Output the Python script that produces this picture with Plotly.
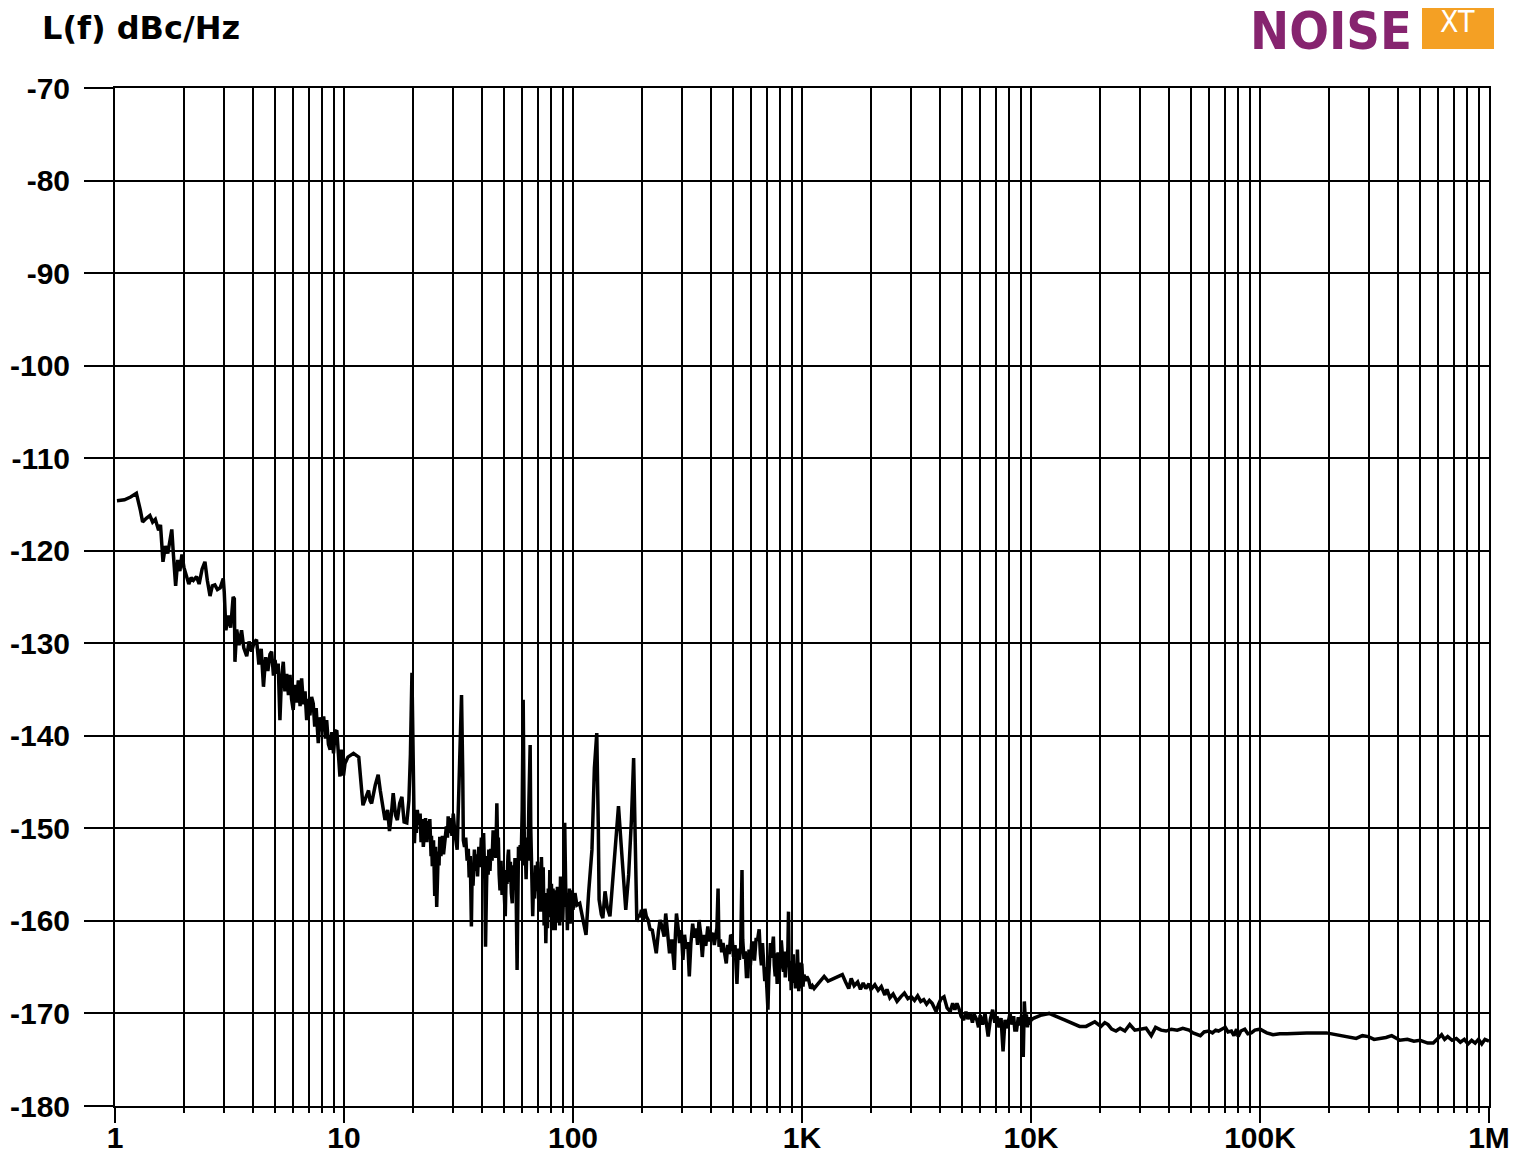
import plotly.graph_objects as go

# ---- data: frequency offset (Hz) and phase noise L(f) (dBc/Hz) ----
freq_hz = [
    1.02, 1.1, 1.17, 1.24, 1.29, 1.32, 1.37, 1.42, 1.46, 1.5, 1.55, 1.58, 1.62, 1.66, 1.7, 1.74,
    1.77, 1.8, 1.84, 1.88, 1.92, 1.96, 2.0, 2.05, 2.1, 2.15, 2.2, 2.27, 2.33, 2.4, 2.47, 2.53,
    2.6, 2.66, 2.73, 2.8, 2.88, 2.97, 3.0, 3.05, 3.12, 3.2, 3.28, 3.32, 3.34, 3.4, 3.48, 3.57,
    3.65, 3.76, 3.85, 3.95, 4.05, 4.15, 4.25, 4.35, 4.45, 4.55, 4.65, 4.75, 4.83, 4.92, 5.0, 5.08,
    5.16, 5.25, 5.33, 5.43, 5.52, 5.62, 5.72, 5.81, 5.9, 6.0, 6.1, 6.2, 6.32, 6.43, 6.53, 6.65,
    6.76, 6.87, 6.98, 7.1, 7.22, 7.34, 7.45, 7.56, 7.72, 7.85, 8.0, 8.15, 8.3, 8.4, 8.55, 8.7,
    8.85, 9.0, 9.15, 9.3, 9.45, 9.6, 9.72, 9.85, 9.95, 10.1, 10.4, 11.0, 11.6, 12.1, 12.5, 12.8,
    13.0, 13.2, 13.7, 14.1, 14.4, 14.6, 15.1, 15.5, 15.8, 16.1, 16.4, 16.8, 17.1, 17.5, 17.9, 18.3,
    18.8, 19.2, 19.5, 19.8, 20.1,
    20.3, 20.5, 20.7, 20.9, 21.2, 21.5, 21.7, 22.0, 22.2, 22.5, 22.7, 23.0, 23.2, 23.5, 23.7, 24.0,
    24.1, 24.3, 24.6, 24.9, 25.1, 25.4, 25.6, 25.8, 26.0, 26.2, 26.5, 26.9, 27.2, 27.6, 28.0, 28.3,
    28.5, 28.9, 29.2, 29.6, 30.0, 30.5, 31.2, 31.8, 32.6, 33.0, 33.2, 33.6, 34.0, 34.5, 34.9, 35.2,
    35.6, 36.0, 36.3, 36.6, 37.1, 37.5, 37.9, 38.3, 38.8, 39.3, 39.8, 40.3, 40.7, 41.2, 41.5, 41.9,
    42.2, 42.6, 42.9, 43.4, 43.8, 44.3, 44.8, 45.2, 45.6, 46.0, 46.5, 46.9, 47.2, 47.6, 48.0, 48.5,
    49.0, 49.5, 50.0, 50.6, 51.1, 51.5, 52.0, 52.3, 52.8, 53.3, 53.8, 54.3, 54.8, 55.3, 55.8, 56.4,
    57.0, 57.4, 57.8, 58.3, 58.8, 59.4, 60.0, 60.6, 61.0, 61.4, 61.9, 62.4, 63.0, 63.6, 64.2, 64.6,
    65.0, 65.4, 65.8, 66.2, 66.7, 67.3, 67.9, 68.6, 69.3, 70.0, 70.8, 71.5, 72.2, 72.8, 73.5, 74.1,
    74.8, 75.5, 76.1, 76.8, 77.4, 78.0, 78.6, 79.2, 79.9, 80.5, 81.2, 81.8, 82.5, 83.1, 83.6, 84.2,
    84.8, 85.5, 86.2, 86.9, 87.5, 88.2, 88.8, 89.5, 90.2, 90.8, 91.5, 92.0, 92.6, 93.2, 93.8, 94.5,
    95.2, 95.8, 96.5, 97.2, 97.9, 98.6, 99.3,
    100, 102, 104,
    107, 111, 114, 117, 121, 124, 127, 129, 130, 133, 135, 138, 141, 145, 150, 154,
    158, 162, 166, 170, 175, 180, 184, 187, 190, 193, 196, 199, 203, 206, 209, 213,
    217, 222, 226, 231, 236, 240, 245, 250, 254, 259, 264, 270, 277, 280, 283, 288,
    292, 297, 302, 307, 312, 317, 322, 327, 333, 339, 345, 350, 355, 361, 367, 373,
    380, 388, 394, 400, 408, 414, 420, 425, 430, 434, 440, 446, 452, 460, 467, 474,
    481, 488, 495, 502, 510, 520, 527, 533, 540, 547, 551, 558, 565, 572, 580, 587,
    595, 603, 610, 620, 630, 640, 650, 658, 665, 672, 680, 688, 695, 702, 710, 716,
    722, 728, 735, 741, 750, 757, 764, 771, 779, 786, 795, 803, 812, 820, 830, 838,
    845, 852, 860, 868, 873, 878, 885, 891, 897, 903, 910, 916, 922, 930, 936, 942,
    948, 955, 962, 968, 974, 980, 986, 992, 998, 1005, 1010, 1020, 1035, 1050, 1070, 1090,
    1110, 1130, 1180, 1250, 1300, 1350, 1420, 1500, 1550, 1600, 1640, 1690, 1750, 1800, 1850, 1900,
    1960, 2000, 2080, 2150, 2220, 2300, 2350, 2420, 2500, 2600, 2700, 2800, 2900, 3000, 3100, 3200,
    3300, 3400, 3500, 3600, 3700, 3850, 3950, 4050, 4170, 4300, 4440, 4550, 4650, 4750, 4850, 4950,
    5080, 5200, 5300, 5430, 5550, 5650, 5800, 5900, 6000, 6150, 6300, 6400, 6500, 6650, 6800, 6950,
    7100, 7250, 7400, 7550, 7700, 7850, 8000, 8100, 8250, 8400, 8500, 8650, 8800, 8950, 9100, 9250,
    9350, 9450, 9550, 9650, 9750, 9850, 10000, 10300, 11000, 12000, 14000, 16300, 17400, 18300, 19000, 20200,
    21000, 21700, 22500, 23500, 24500, 25700, 27000, 28400, 30000, 31800, 33500, 35000, 37000, 38900, 41000, 43500,
    46000, 47400, 49000, 51000, 53000, 54900, 57000, 59700, 62000, 64000, 65900, 68000, 70500, 72500, 75000, 77000,
    79000, 80300, 82500, 85800, 88500, 91600, 95000, 100000, 107000, 114000, 122000, 131000, 160000, 195000, 230000, 263000,
    280000, 297000, 315000, 334000, 355000, 376000, 408000, 440000, 470000, 500000, 540000, 571000, 600000, 621000, 640000, 660000,
    690000, 720000, 750000, 780000, 810000, 840000, 870000, 900000, 930000, 960000, 1000000,
]

phase_noise_dbc = [
    -114.6, -114.5, -114.2, -113.8, -115.6, -116.9, -116.5, -116.2, -116.9, -116.6, -117.8, -117.2, -121.2, -119.5, -120.3, -118.6,
    -117.7, -120.5, -123.8, -121.0, -122.2, -120.4, -121.8, -122.7, -123.6, -122.9, -123.2, -122.8, -123.6, -122.0, -121.2, -123.2,
    -124.9, -123.8, -123.7, -124.2, -124.0, -123.0, -124.5, -128.6, -127.0, -128.3, -125.0, -125.2, -132.0, -128.5, -130.2, -128.6,
    -130.5, -131.4, -129.8, -130.9, -129.9, -129.6, -132.3, -130.6, -134.7, -131.5, -133.0, -131.2, -130.9, -133.5, -131.8, -133.3,
    -132.2, -138.3, -134.0, -132.0, -135.2, -133.3, -135.6, -133.4, -136.0, -137.2, -134.5, -136.4, -134.0, -136.8, -133.8, -136.6,
    -135.2, -138.3, -136.0, -137.8, -135.8, -136.5, -139.0, -137.0, -140.8, -138.0, -139.5, -137.9, -140.3, -138.3, -140.9, -141.5,
    -139.6, -141.9, -139.6, -139.4, -142.2, -144.4, -141.5, -143.0, -144.3, -143.0, -142.3, -141.9, -142.3, -147.5, -146.6, -145.9,
    -147.0, -147.3, -145.3, -144.2, -145.9, -146.9, -149.1, -148.0, -150.3, -148.5, -146.2, -148.6, -149.1, -147.3, -146.6, -149.3,
    -149.4, -147.0, -142.0, -133.2, -145.0,
    -151.6, -148.9, -150.5, -148.0, -149.6, -148.4, -151.5, -149.0, -152.0, -150.2, -148.9, -151.5, -149.2, -150.4, -149.0, -153.0,
    -150.8, -154.1, -151.3, -157.3, -152.0, -158.5, -156.0, -152.5, -154.0, -150.9, -153.0, -150.8, -152.8, -151.2, -149.8, -151.0,
    -148.7, -150.5, -148.9, -150.8, -148.4, -150.5, -152.3, -145.0, -135.6, -144.0, -151.3, -152.0, -151.0, -153.5, -152.2, -155.3,
    -153.0, -160.6, -154.0, -156.2, -152.3, -154.6, -152.8, -155.2, -152.0, -154.2, -151.0, -153.0, -150.5, -155.5, -162.8, -156.5,
    -153.0, -155.0, -152.3, -154.6, -152.2, -153.5, -150.2, -152.6, -151.0, -153.2, -147.3, -152.5, -151.0, -155.0, -156.7, -153.5,
    -157.2, -154.2, -158.0, -159.5, -154.5, -156.0, -153.0, -152.3, -155.8, -153.6, -157.0, -158.1, -154.0, -156.5, -153.2, -156.0,
    -165.3, -156.0, -152.0, -153.5, -151.8, -153.0, -148.0, -136.1, -146.0, -154.0, -152.3, -155.5, -151.0, -153.5, -147.0, -143.0,
    -141.0, -150.0, -155.0, -157.0, -159.5, -155.5, -157.6, -154.0, -156.8, -153.6, -157.7, -155.0, -159.0, -153.1, -157.5, -154.2,
    -160.5, -157.0, -162.4, -157.5, -160.8, -156.5, -159.6, -154.5, -158.4, -156.0, -161.0, -156.5, -159.8, -156.7, -161.0, -157.8,
    -160.0, -156.3, -160.2, -157.0, -160.5, -155.2, -158.9, -156.0, -160.0, -157.5, -156.0, -149.4, -156.0, -158.5, -157.0, -161.0,
    -157.5, -159.7, -156.5, -160.3, -157.3, -159.6, -156.7,
    -158.8, -157.0, -158.3,
    -158.1, -160.3, -161.5, -157.0, -152.3, -143.5, -139.7, -150.0, -157.7, -159.3, -159.7, -156.8, -158.5, -159.5, -155.0, -150.5,
    -147.6, -151.5, -155.5, -158.8, -155.0, -149.0, -142.4, -152.0, -160.1, -159.3, -159.6, -158.8, -159.9, -158.7, -159.5, -159.9,
    -160.9, -161.0, -162.0, -163.5, -161.2, -159.9, -160.7, -161.7, -159.2, -161.8, -163.5, -162.0, -165.3, -161.5, -159.2, -160.8,
    -162.4, -161.0, -164.2, -161.5, -163.0, -162.3, -166.0, -162.5, -160.3, -161.8, -160.8, -162.6, -159.9, -161.4, -163.9, -161.5,
    -162.7, -160.6, -162.2, -161.7, -161.3, -162.6, -161.4, -160.8, -156.5, -162.8, -162.0, -163.4, -162.4, -163.8, -164.6, -162.6,
    -163.6, -161.5, -161.7, -163.9, -162.6, -166.8, -163.0, -164.2, -162.8, -154.5, -162.0, -164.1, -163.3, -166.0, -166.0, -163.1,
    -164.8, -162.4, -162.4, -164.3, -162.0, -162.0, -160.9, -163.6, -164.8, -162.4, -164.9, -166.5, -165.0, -168.4, -169.6, -166.0,
    -164.3, -162.4, -164.0, -162.8, -161.7, -164.8, -166.0, -163.5, -166.8, -163.4, -165.5, -164.7, -162.1, -163.5, -165.5, -163.3,
    -166.1, -164.0, -165.0, -162.8, -159.0, -164.4, -166.5, -164.3, -167.5, -165.0, -166.2, -163.6, -166.7, -164.8, -167.3, -164.6,
    -166.4, -163.1, -165.2, -167.6, -164.5, -166.9, -165.2, -167.3, -164.6, -166.5, -167.1, -165.8, -166.5, -166.0, -166.4, -167.3,
    -167.0, -167.3, -166.7, -166.0, -166.5, -166.3, -166.0, -165.8, -166.6, -167.3, -166.2, -167.0, -166.6, -167.4, -166.7, -167.3,
    -166.8, -167.4, -166.9, -167.5, -167.1, -168.0, -167.4, -168.3, -167.9, -168.7, -168.2, -167.8, -168.4, -168.2, -168.6, -168.1,
    -168.7, -168.5, -169.0, -168.6, -168.9, -169.8, -169.0, -168.4, -168.2, -169.4, -169.8, -168.9, -169.6, -168.9, -169.5, -170.3,
    -170.7, -169.8, -170.6, -170.0, -171.0, -170.1, -170.7, -171.5, -170.2, -171.2, -170.0, -171.0, -172.5, -170.6, -169.6, -171.0,
    -170.3, -171.5, -170.5, -174.1, -170.7, -171.6, -170.4, -170.0, -171.2, -170.3, -171.8, -171.8, -170.4, -171.3, -170.2, -174.7,
    -168.7, -170.8, -170.1, -171.5, -170.4, -171.2, -170.7, -170.5, -170.2, -170.0, -170.7, -171.4, -171.4, -171.1, -170.9, -171.4,
    -171.0, -171.2, -171.7, -171.9, -171.6, -171.9, -171.2, -171.8, -171.7, -171.6, -172.4, -171.5, -171.8, -171.9, -171.7, -171.8,
    -171.6, -171.7, -171.8, -172.1, -172.3, -172.4, -172.0, -171.9, -172.1, -171.8, -171.9, -171.7, -171.5, -172.0, -171.9, -172.4,
    -171.7, -172.5, -171.9, -171.7, -172.2, -172.1, -171.8, -171.7, -172.1, -172.3, -172.2, -172.2, -172.1, -172.1, -172.4, -172.7,
    -172.4, -172.5, -172.8, -172.7, -172.6, -172.4, -172.9, -172.8, -173.0, -172.9, -173.2, -173.2, -172.6, -172.3, -172.8, -172.5,
    -172.9, -172.7, -173.1, -172.8, -173.3, -172.9, -173.2, -172.8, -173.3, -172.8, -173.0,
]

x_tick_values = [1, 10, 100, 1000, 10000, 100000, 1000000]
x_tick_labels = ["1", "10", "100", "1K", "10K", "100K", "1M"]
x_minor_values = [m * 10 ** d for d in range(6) for m in range(2, 10)]
y_tick_values = [-180, -170, -160, -150, -140, -130, -120, -110, -100, -90, -80, -70]
y_tick_labels = ["-180", "-170", "-160", "-150", "-140", "-130", "-120", "-110", "-100", "-90", "-80", "-70"]
y_range = [-180, -70]

title_text = "L(f) dBc/Hz"
logo_main = "NOISE"
logo_tag = "XT"

# ---- figure geometry (the page body adds an 8 px offset) ----
OFF = 8
W, H = 1517 - OFF, 1154 - OFF
PLOT_L, PLOT_R, PLOT_T, PLOT_B = 115, 1489, 88, 1106   # in page pixels
ML, MT = PLOT_L - OFF, PLOT_T - OFF
MR, MB = W - (PLOT_R - OFF), H - (PLOT_B - OFF)
PW, PH = PLOT_R - PLOT_L, PLOT_B - PLOT_T


def px_to_paper_x(px):
    return (px - PLOT_L) / PW


def px_to_paper_y(py):
    return (PLOT_B - py) / PH


fig = go.Figure()
fig.add_trace(go.Scatter(
    x=freq_hz, y=phase_noise_dbc, mode="lines",
    line=dict(color="black", width=3.5), hoverinfo="x+y", showlegend=False,
))

tick_font = dict(family="Arial, Liberation Sans, Helvetica, sans-serif", size=30, color="black", weight="bold")

fig.update_xaxes(
    type="log", range=[0, 6], automargin=False,
    tickmode="array", tickvals=x_tick_values, ticktext=x_tick_labels,
    ticks="outside", ticklen=15, tickwidth=2, tickcolor="black",
    showgrid=True, gridcolor="black", gridwidth=2,
    showline=True, linecolor="black", linewidth=2, mirror=True,
    tickfont=tick_font, ticklabelstandoff=-11,
    minor=dict(tickmode="array", tickvals=x_minor_values, ticks="outside", ticklen=5,
               tickwidth=2, tickcolor="black", showgrid=True, gridcolor="black", gridwidth=2),
    zeroline=False,
)
fig.update_yaxes(
    range=y_range, automargin=False,
    tickmode="array", tickvals=y_tick_values, ticktext=y_tick_labels,
    ticks="outside", ticklen=29, tickwidth=2, tickcolor="black",
    showgrid=True, gridcolor="black", gridwidth=2,
    showline=True, linecolor="black", linewidth=2, mirror=True,
    tickfont=tick_font, ticklabelstandoff=8,
    zeroline=False,
)

# title at top-left
fig.add_annotation(
    text=title_text, xref="paper", yref="paper",
    x=px_to_paper_x(40), y=px_to_paper_y(28.5), xanchor="left", yanchor="middle",
    showarrow=False, font=dict(family="DejaVu Sans", size=32, color="black", weight="bold"),
)

# logo (top-right)
fig.add_shape(
    type="rect", xref="paper", yref="paper",
    x0=px_to_paper_x(1422), x1=px_to_paper_x(1494), y0=px_to_paper_y(49), y1=px_to_paper_y(-20),
    fillcolor="#F4A024", line=dict(width=0), layer="above",
)
fig.add_annotation(
    text=logo_main, xref="paper", yref="paper",
    x=px_to_paper_x(1414), y=px_to_paper_y(31), xanchor="right", yanchor="middle",
    showarrow=False,
    font=dict(family="DejaVu Sans Condensed, DejaVu Sans, sans-serif", size=52,
              color="#86246F", weight="bold"),
)
fig.add_annotation(
    text=logo_tag, xref="paper", yref="paper",
    x=px_to_paper_x(1457), y=px_to_paper_y(22), xanchor="center", yanchor="middle",
    showarrow=False,
    font=dict(family="DejaVu Sans Condensed, DejaVu Sans, sans-serif", size=30,
              color="white"),
)

fig.update_layout(
    width=W, height=H,
    margin=dict(l=ML, r=MR, t=MT, b=MB, pad=0),
    paper_bgcolor="white", plot_bgcolor="white",
    showlegend=False,
)

fig.write_html("out.html")
